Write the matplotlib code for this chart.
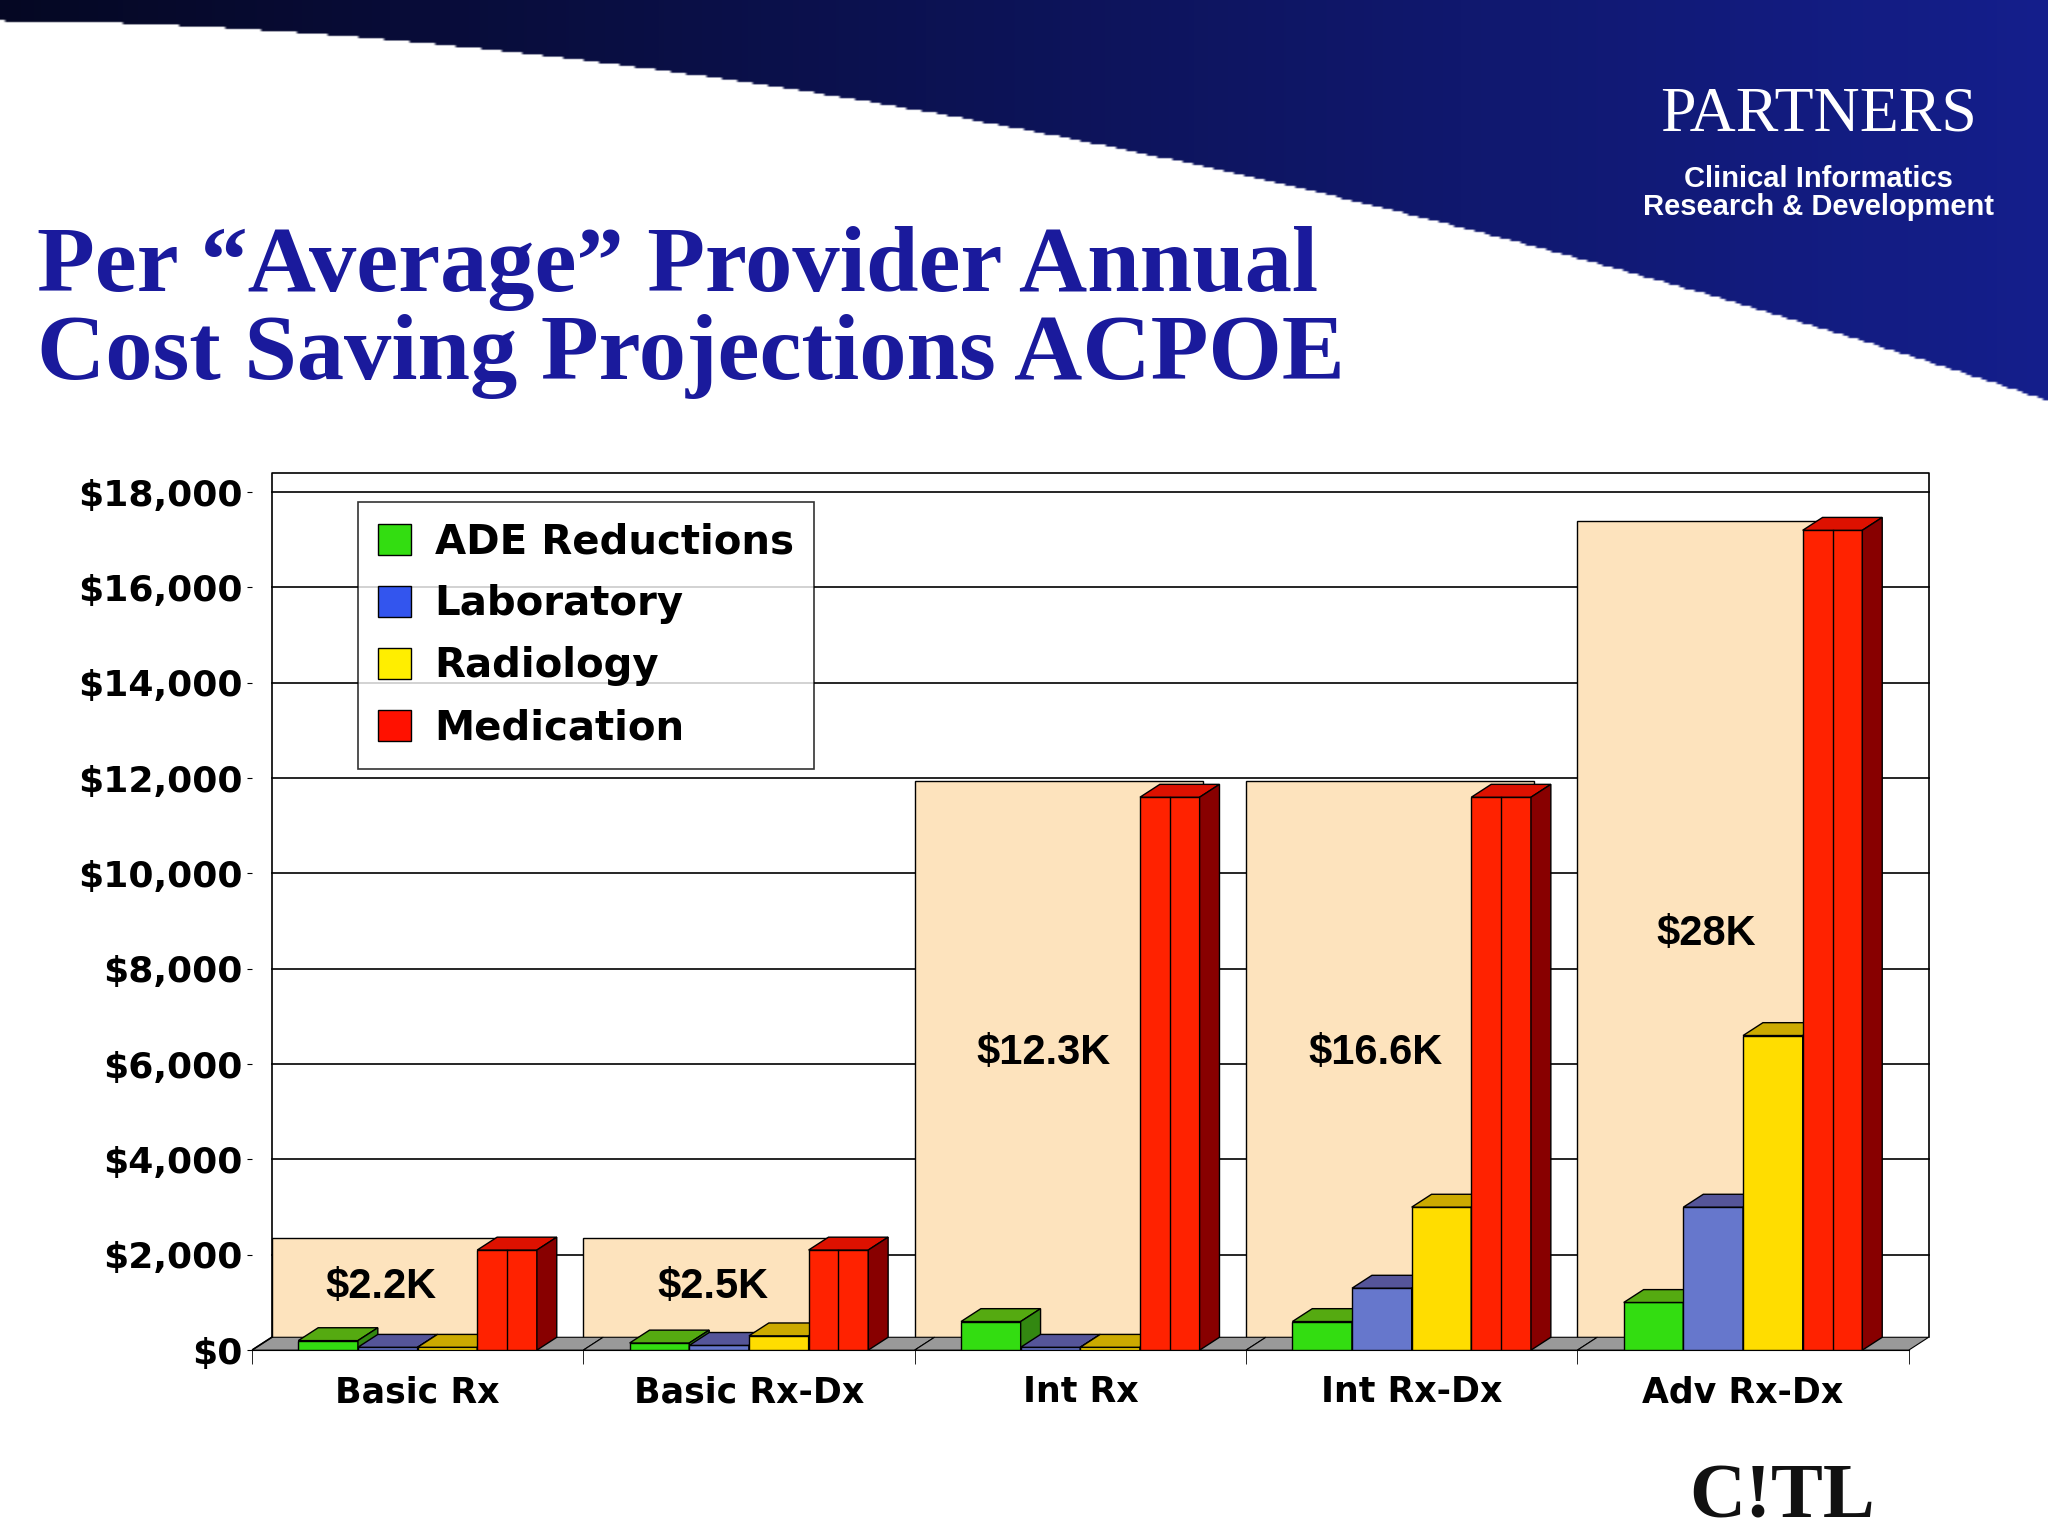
import matplotlib.pyplot as plt
import numpy as np
from matplotlib.patches import Polygon, Rectangle

categories = ["Basic Rx", "Basic Rx-Dx", "Int Rx", "Int Rx-Dx", "Adv Rx-Dx"]
series = ["ADE Reductions", "Laboratory", "Radiology", "Medication"]
ade = [200, 150, 600, 600, 1000]
lab = [60, 100, 60, 1300, 3000]
rad = [60, 300, 60, 3000, 6600]
med = [2100, 2100, 11600, 11600, 17200]
totals = [2350, 2350, 11950, 11950, 17400]
total_labels = ["$2.2K", "$2.5K", "$12.3K", "$16.6K", "$28K"]
label_y = [1100, 1100, 6000, 6000, 8500]

front = ["#33dd11", "#6677cc", "#ffdd00", "#ff2200"]
topc = ["#55aa11", "#555599", "#ccaa00", "#dd1100"]
sidec = ["#338811", "#333377", "#998800", "#880000"]

fig = plt.figure(figsize=(20.48, 15.36), dpi=100)

# header background: dark band curving down to the right
bg = fig.add_axes([0, 0, 1, 1], zorder=-10)
h, w = 300, 400
yy, xx = np.mgrid[0:h, 0:w]
yy = yy / h
xx = xx / w
curve = 0.03 + 0.55 * xx ** 1.8
img = np.ones((h, w, 3))
mask = yy < curve
navy = np.array([0.08, 0.12, 0.55])
for c in range(3):
    img[..., c] = np.where(mask, navy[c] * (0.25 + 0.75 * xx), 1.0)
bg.imshow(img, extent=[0, 1, 0.55, 1], aspect="auto")
bg.set_xlim(0, 1)
bg.set_ylim(0, 1)
bg.axis("off")

fig.text(0.018, 0.74, "Per \u201cAverage\u201d Provider Annual\nCost Saving Projections ACPOE",
         family="Liberation Serif", weight="bold", color="#1a1a9c", fontsize=68,
         linespacing=1.05, va="bottom")
fig.text(0.888, 0.915, "PARTNERS", family="Liberation Serif", color="white",
         fontsize=46, ha="center")
fig.text(0.888, 0.86, "Clinical Informatics\nResearch & Development", color="white",
         fontsize=21, ha="center", linespacing=1.0, family="Liberation Sans", weight="bold")
fig.text(0.87, 0.012, "C!TL", family="Liberation Serif", weight="bold", fontsize=56,
         ha="center", color="#111111")

ax = fig.add_axes([0.123, 0.121, 0.809, 0.571])
ax.set_xlim(-0.5, 4.5)
ax.set_ylim(0, 18400)
ax.set_yticks(np.arange(0, 18001, 2000))
ax.set_yticklabels([f"${v:,}" for v in range(0, 18001, 2000)], fontsize=26, weight="bold")
ax.set_xticks(range(5))
ax.set_xticklabels(categories, fontsize=25, weight="bold")
ax.set_xticks(np.arange(-0.5, 4.6, 1), minor=True)
ax.tick_params(axis="x", which="major", length=0, pad=18)
ax.tick_params(axis="x", which="minor", length=10)
ax.spines["left"].set_visible(False)
ax.spines["right"].set_visible(False)
ax.spines["top"].set_visible(False)

dx, dy = 0.06, 270
bw = 0.18
# back wall frame and gridlines
ax.plot([-0.5 + dx, -0.5 + dx, 4.5 + dx, 4.5 + dx], [dy, 18400, 18400, dy],
        color="black", lw=1.2, clip_on=False, zorder=2)
ax.plot([-0.5, -0.5 + dx], [0, dy], color="black", lw=1.2, zorder=2)
for yv in range(2000, 18001, 2000):
    ax.plot([-0.5 + dx, 4.5 + dx], [yv, yv], color="black", lw=1.2, clip_on=False, zorder=0.5)

values = [ade, lab, rad, med]
for i in range(5):
    left = max(i - 0.5, -0.5 + dx)
    ax.add_patch(Rectangle((left, 0), i + 0.37 - left, totals[i], fc="#fde3bd", ec="black", lw=1, zorder=1))
    ax.text(i - 0.11, label_y[i], total_labels[i], fontsize=30, weight="bold", ha="center",
            family="Liberation Sans", zorder=5)
    ax.add_patch(Polygon([(i - 0.5, 0), (i + 0.5, 0), (i + 0.5 + dx, dy), (i - 0.5 + dx, dy)],
                         fc="#999999", ec="black", lw=0.8, zorder=1.5, clip_on=False))
    for s in range(4):
        x0 = i - 0.36 + s * bw
        v = values[s][i]
        ax.add_patch(Rectangle((x0, 0), bw, v, fc=front[s], ec="black", lw=1, zorder=3))
        ax.add_patch(Polygon([(x0, v), (x0 + bw, v), (x0 + bw + dx, v + dy), (x0 + dx, v + dy)],
                             fc=topc[s], ec="black", lw=1, zorder=3))
        ax.add_patch(Polygon([(x0 + bw, 0), (x0 + bw + dx, dy), (x0 + bw + dx, v + dy), (x0 + bw, v)],
                             fc=sidec[s], ec="black", lw=1, zorder=3))
        if s == 3:
            ax.plot([x0 + bw / 2, x0 + bw / 2], [0, v], color="black", lw=1, zorder=4)

legend_colors = ["#33dd11", "#3355ee", "#ffee00", "#ff1100"]
handles = [Rectangle((0, 0), 1, 1, fc=c, ec="black") for c in legend_colors]
leg = ax.legend(handles, series, loc="upper left", bbox_to_anchor=(0.052, 0.99),
                frameon=True, fancybox=False, edgecolor="black",
                handlelength=0.8, handleheight=0.8, borderpad=0.5, labelspacing=0.55,
                handletextpad=0.6, prop={"weight": "bold", "size": 29})
leg.get_frame().set_linewidth(1.2)

fig.savefig("out.png", dpi=100)
